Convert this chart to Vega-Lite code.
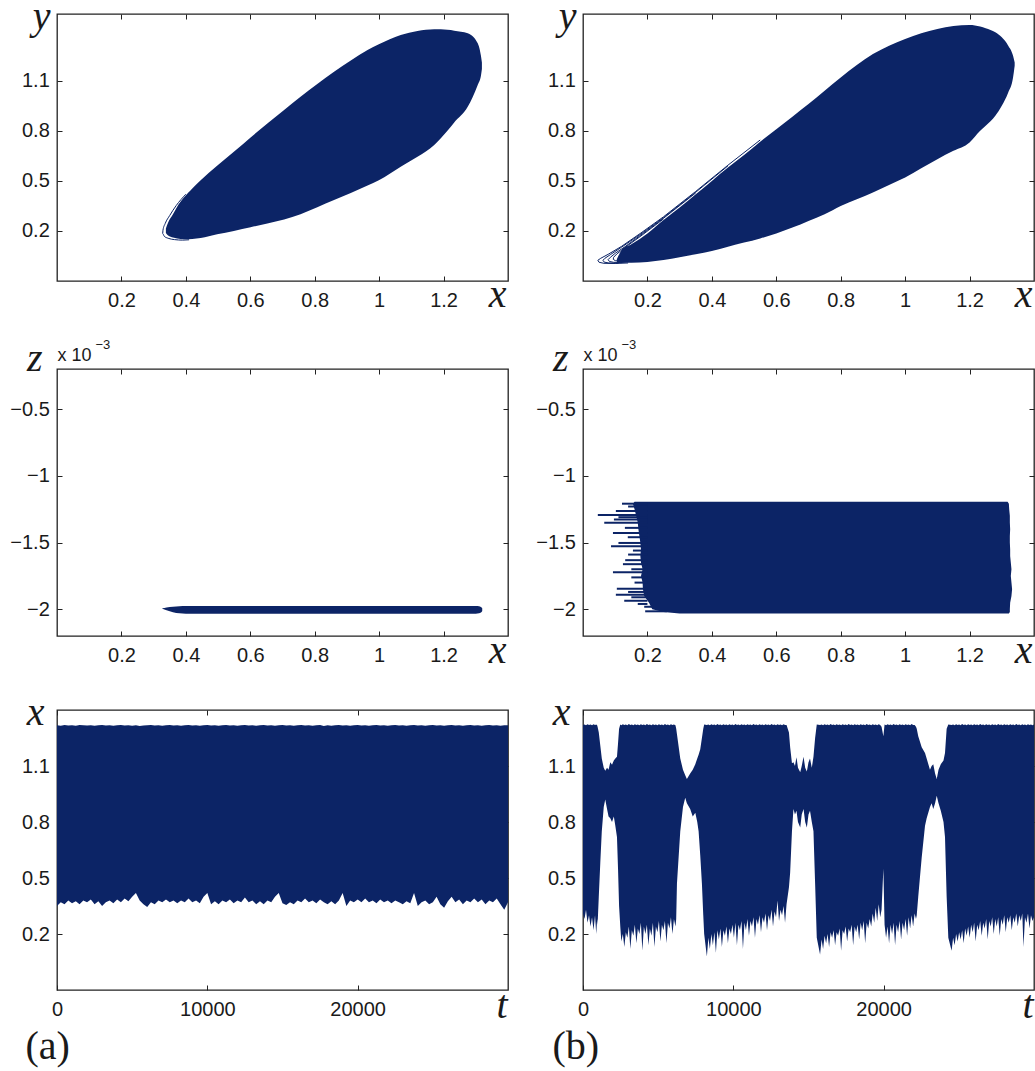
{
  "$schema": "https://vega.github.io/schema/vega-lite/v6.json",
  "autosize": {"type": "none"},
  "padding": {"left": 57, "top": 14, "right": 978, "bottom": 1057},
  "background": "white",
  "config": {
    "view": {"stroke": "#222222", "strokeWidth": 1.3},
    "axis": {
      "domain": false, "grid": false, "tickSize": -5, "tickColor": "#222222", "tickWidth": 1,
      "labelFont": "Liberation Sans", "labelFontSize": 20, "labelColor": "#1a1a1a",
      "labelFlush": false, "labelOverlap": false, "labelBound": false,
      "titleFont": "Liberation Serif", "titleFontStyle": "italic", "titleFontWeight": "normal",
      "titleFontSize": 40, "titleColor": "#1a1a1a", "titleAngle": 0
    },
    "axisX": {"labelPadding": 14},
    "axisY": {"labelPadding": 12.7}
  },
  "datasets": {
    "tl": [
      {"x":0.338,"lo":0.188,"hi":0.215},{"x":0.345,"lo":0.172,"hi":0.25},{"x":0.36,"lo":0.16,"hi":0.30},
      {"x":0.373,"lo":0.155,"hi":0.345},{"x":0.394,"lo":0.15,"hi":0.40},{"x":0.42,"lo":0.152,"hi":0.455},
      {"x":0.446,"lo":0.158,"hi":0.504},{"x":0.497,"lo":0.18,"hi":0.59},{"x":0.549,"lo":0.20,"hi":0.674},
      {"x":0.601,"lo":0.222,"hi":0.76},{"x":0.653,"lo":0.244,"hi":0.844},{"x":0.705,"lo":0.268,"hi":0.925},
      {"x":0.756,"lo":0.30,"hi":1.004},{"x":0.808,"lo":0.342,"hi":1.08},{"x":0.86,"lo":0.385,"hi":1.154},
      {"x":0.912,"lo":0.428,"hi":1.222},{"x":0.964,"lo":0.472,"hi":1.284},{"x":0.999,"lo":0.504,"hi":1.318},
      {"x":1.067,"lo":0.585,"hi":1.374},{"x":1.119,"lo":0.644,"hi":1.398},{"x":1.171,"lo":0.715,"hi":1.408},
      {"x":1.212,"lo":0.80,"hi":1.405},{"x":1.233,"lo":0.85,"hi":1.40},{"x":1.275,"lo":0.944,"hi":1.384},
      {"x":1.306,"lo":1.075,"hi":1.324},{"x":1.316,"lo":1.13,"hi":1.25},{"x":1.319,"lo":1.17,"hi":1.21}
    ],
    "tlloop": [
      {"ord":1,"x":0.40,"y":0.42},{"ord":2,"x":0.37,"y":0.352},{"ord":3,"x":0.35,"y":0.293},
      {"ord":4,"x":0.336,"y":0.245},{"ord":5,"x":0.329,"y":0.205},{"ord":6,"x":0.328,"y":0.185},
      {"ord":7,"x":0.333,"y":0.168},{"ord":8,"x":0.345,"y":0.156},{"ord":9,"x":0.365,"y":0.148},
      {"ord":10,"x":0.39,"y":0.145},{"ord":11,"x":0.41,"y":0.147}
    ],
    "tr": [
      {"x":0.105,"lo":0.012,"hi":0.03},{"x":0.12,"lo":0.008,"hi":0.085},{"x":0.15,"lo":0.009,"hi":0.12},
      {"x":0.20,"lo":0.014,"hi":0.185},{"x":0.25,"lo":0.026,"hi":0.265},{"x":0.30,"lo":0.042,"hi":0.34},
      {"x":0.35,"lo":0.06,"hi":0.42},{"x":0.40,"lo":0.08,"hi":0.50},{"x":0.45,"lo":0.105,"hi":0.58},
      {"x":0.50,"lo":0.13,"hi":0.655},{"x":0.55,"lo":0.155,"hi":0.735},{"x":0.60,"lo":0.185,"hi":0.81},
      {"x":0.65,"lo":0.22,"hi":0.885},{"x":0.70,"lo":0.26,"hi":0.96},{"x":0.75,"lo":0.30,"hi":1.04},
      {"x":0.80,"lo":0.35,"hi":1.12},{"x":0.85,"lo":0.39,"hi":1.195},{"x":0.90,"lo":0.43,"hi":1.26},
      {"x":0.95,"lo":0.475,"hi":1.31},{"x":1.00,"lo":0.52,"hi":1.35},{"x":1.05,"lo":0.575,"hi":1.385},
      {"x":1.10,"lo":0.63,"hi":1.41},{"x":1.15,"lo":0.68,"hi":1.428},{"x":1.20,"lo":0.73,"hi":1.434},
      {"x":1.233,"lo":0.80,"hi":1.425},{"x":1.25,"lo":0.83,"hi":1.415},{"x":1.28,"lo":0.89,"hi":1.39},
      {"x":1.30,"lo":0.95,"hi":1.36},{"x":1.32,"lo":1.03,"hi":1.31},{"x":1.335,"lo":1.12,"hi":1.25},
      {"x":1.34,"lo":1.19,"hi":1.21}
    ],
    "trloop": [
      {"loop":1,"ord":1,"x":0.55,"y":0.745},{"loop":1,"ord":2,"x":0.45,"y":0.594},{"loop":1,"ord":3,"x":0.35,"y":0.437},
      {"loop":1,"ord":4,"x":0.25,"y":0.285},{"loop":1,"ord":5,"x":0.18,"y":0.188},{"loop":1,"ord":6,"x":0.12,"y":0.108},
      {"loop":1,"ord":7,"x":0.08,"y":0.062},{"loop":1,"ord":8,"x":0.055,"y":0.036},{"loop":1,"ord":9,"x":0.046,"y":0.024},
      {"loop":1,"ord":10,"x":0.05,"y":0.012},{"loop":1,"ord":11,"x":0.065,"y":0.006},{"loop":1,"ord":12,"x":0.10,"y":0.005},
      {"loop":1,"ord":13,"x":0.14,"y":0.008},
      {"loop":2,"ord":1,"x":0.45,"y":0.59},{"loop":2,"ord":2,"x":0.35,"y":0.432},{"loop":2,"ord":3,"x":0.25,"y":0.28},
      {"loop":2,"ord":4,"x":0.18,"y":0.182},{"loop":2,"ord":5,"x":0.12,"y":0.103},{"loop":2,"ord":6,"x":0.085,"y":0.058},
      {"loop":2,"ord":7,"x":0.068,"y":0.036},{"loop":2,"ord":8,"x":0.062,"y":0.024},{"loop":2,"ord":9,"x":0.066,"y":0.013},
      {"loop":2,"ord":10,"x":0.08,"y":0.008},{"loop":2,"ord":11,"x":0.11,"y":0.007},
      {"loop":3,"ord":1,"x":0.35,"y":0.428},{"loop":3,"ord":2,"x":0.25,"y":0.276},{"loop":3,"ord":3,"x":0.18,"y":0.176},
      {"loop":3,"ord":4,"x":0.13,"y":0.105},{"loop":3,"ord":5,"x":0.10,"y":0.066},{"loop":3,"ord":6,"x":0.085,"y":0.042},
      {"loop":3,"ord":7,"x":0.078,"y":0.028},{"loop":3,"ord":8,"x":0.082,"y":0.017},{"loop":3,"ord":9,"x":0.095,"y":0.012},
      {"loop":3,"ord":10,"x":0.12,"y":0.01},
      {"loop":4,"ord":1,"x":0.25,"y":0.272},{"loop":4,"ord":2,"x":0.18,"y":0.17},{"loop":4,"ord":3,"x":0.13,"y":0.10},
      {"loop":4,"ord":4,"x":0.105,"y":0.062},{"loop":4,"ord":5,"x":0.095,"y":0.042},{"loop":4,"ord":6,"x":0.094,"y":0.03},
      {"loop":4,"ord":7,"x":0.10,"y":0.022},{"loop":4,"ord":8,"x":0.11,"y":0.02}
    ],
    "ml": [
      {"x":0.327,"lo":-0.001996,"hi":-0.001992},{"x":0.34,"lo":-0.002008,"hi":-0.001986},
      {"x":0.36,"lo":-0.002022,"hi":-0.00198},{"x":0.38,"lo":-0.00203,"hi":-0.001977},
      {"x":0.40,"lo":-0.002033,"hi":-0.001975},{"x":1.30,"lo":-0.002033,"hi":-0.001975},
      {"x":1.31,"lo":-0.00203,"hi":-0.001977},{"x":1.316,"lo":-0.002024,"hi":-0.001982},
      {"x":1.32,"lo":-0.002012,"hi":-0.001992}
    ],
    "mrb": [
      {"z":-0.002032,"xl":0.30,"xr":1.322},{"z":-0.00202,"xl":0.25,"xr":1.325},{"z":-0.002,"xl":0.215,"xr":1.325},
      {"z":-0.00195,"xl":0.205,"xr":1.326},{"z":-0.0019,"xl":0.19,"xr":1.33},{"z":-0.00185,"xl":0.186,"xr":1.332},
      {"z":-0.0018,"xl":0.185,"xr":1.33},{"z":-0.00175,"xl":0.18,"xr":1.328},{"z":-0.0017,"xl":0.185,"xr":1.33},
      {"z":-0.00165,"xl":0.18,"xr":1.328},{"z":-0.0016,"xl":0.178,"xr":1.326},{"z":-0.00155,"xl":0.18,"xr":1.326},
      {"z":-0.0015,"xl":0.178,"xr":1.325},{"z":-0.00145,"xl":0.175,"xr":1.325},{"z":-0.0014,"xl":0.172,"xr":1.326},
      {"z":-0.00135,"xl":0.17,"xr":1.325},{"z":-0.0013,"xl":0.165,"xr":1.325},{"z":-0.00125,"xl":0.16,"xr":1.323},
      {"z":-0.00121,"xl":0.155,"xr":1.322},{"z":-0.001195,"xl":0.16,"xr":1.318}
    ],
    "mrs": [
      {"z":-0.001209,"xl":0.121,"xr":0.2},{"z":-0.00123,"xl":0.14,"xr":0.2},{"z":-0.001264,"xl":0.102,"xr":0.2},
      {"z":-0.001294,"xl":0.046,"xr":0.2},{"z":-0.00131,"xl":0.11,"xr":0.2},{"z":-0.001328,"xl":0.096,"xr":0.2},
      {"z":-0.001351,"xl":0.066,"xr":0.2},{"z":-0.00139,"xl":0.13,"xr":0.2},{"z":-0.001428,"xl":0.093,"xr":0.2},
      {"z":-0.00146,"xl":0.139,"xr":0.2},{"z":-0.001503,"xl":0.11,"xr":0.2},{"z":-0.001528,"xl":0.087,"xr":0.2},
      {"z":-0.00156,"xl":0.155,"xr":0.2},{"z":-0.00159,"xl":0.14,"xr":0.2},{"z":-0.001632,"xl":0.131,"xr":0.2},
      {"z":-0.001662,"xl":0.124,"xr":0.2},{"z":-0.0017,"xl":0.15,"xr":0.2},{"z":-0.001722,"xl":0.093,"xr":0.2},
      {"z":-0.001761,"xl":0.15,"xr":0.2},{"z":-0.0018,"xl":0.16,"xr":0.2},{"z":-0.001846,"xl":0.105,"xr":0.2},
      {"z":-0.00187,"xl":0.14,"xr":0.2},{"z":-0.001891,"xl":0.102,"xr":0.2},{"z":-0.00191,"xl":0.15,"xr":0.2},
      {"z":-0.001936,"xl":0.128,"xr":0.2},{"z":-0.00196,"xl":0.17,"xr":0.2},{"z":-0.001981,"xl":0.19,"xr":0.22},
      {"z":-0.002015,"xl":0.193,"xr":0.26}
    ],
    "bl": [
      {"t":0,"lo":0.35,"hi":1.318},{"t":250,"lo":0.37,"hi":1.316},{"t":500,"lo":0.36,"hi":1.319},{"t":750,"lo":0.38,"hi":1.317},
      {"t":1000,"lo":0.365,"hi":1.318},{"t":1250,"lo":0.375,"hi":1.316},{"t":1500,"lo":0.36,"hi":1.319},{"t":1750,"lo":0.38,"hi":1.318},
      {"t":2000,"lo":0.37,"hi":1.317},{"t":2250,"lo":0.385,"hi":1.318},{"t":2500,"lo":0.36,"hi":1.316},{"t":2750,"lo":0.375,"hi":1.318},
      {"t":3000,"lo":0.35,"hi":1.319},{"t":3250,"lo":0.37,"hi":1.317},{"t":3500,"lo":0.38,"hi":1.318},{"t":3750,"lo":0.365,"hi":1.316},
      {"t":4000,"lo":0.385,"hi":1.318},{"t":4250,"lo":0.37,"hi":1.319},{"t":4500,"lo":0.39,"hi":1.317},{"t":4750,"lo":0.375,"hi":1.318},
      {"t":5000,"lo":0.40,"hi":1.316},{"t":5250,"lo":0.42,"hi":1.318},{"t":5500,"lo":0.38,"hi":1.314},{"t":5750,"lo":0.36,"hi":1.317},
      {"t":6000,"lo":0.345,"hi":1.318},{"t":6250,"lo":0.37,"hi":1.319},{"t":6500,"lo":0.36,"hi":1.317},{"t":6750,"lo":0.38,"hi":1.318},
      {"t":7000,"lo":0.37,"hi":1.316},{"t":7250,"lo":0.385,"hi":1.318},{"t":7500,"lo":0.37,"hi":1.319},{"t":7750,"lo":0.38,"hi":1.317},
      {"t":8000,"lo":0.365,"hi":1.318},{"t":8250,"lo":0.38,"hi":1.316},{"t":8500,"lo":0.37,"hi":1.318},{"t":8750,"lo":0.39,"hi":1.319},
      {"t":9000,"lo":0.37,"hi":1.317},{"t":9250,"lo":0.38,"hi":1.318},{"t":9500,"lo":0.365,"hi":1.316},{"t":9750,"lo":0.40,"hi":1.318},
      {"t":10000,"lo":0.42,"hi":1.32},{"t":10250,"lo":0.36,"hi":1.317},{"t":10500,"lo":0.375,"hi":1.318},{"t":10750,"lo":0.36,"hi":1.316},
      {"t":11000,"lo":0.38,"hi":1.318},{"t":11250,"lo":0.37,"hi":1.319},{"t":11500,"lo":0.385,"hi":1.317},{"t":11750,"lo":0.365,"hi":1.318},
      {"t":12000,"lo":0.38,"hi":1.316},{"t":12250,"lo":0.37,"hi":1.318},{"t":12500,"lo":0.395,"hi":1.319},{"t":12750,"lo":0.37,"hi":1.317},
      {"t":13000,"lo":0.38,"hi":1.318},{"t":13250,"lo":0.36,"hi":1.316},{"t":13500,"lo":0.375,"hi":1.318},{"t":13750,"lo":0.36,"hi":1.319},
      {"t":14000,"lo":0.38,"hi":1.317},{"t":14250,"lo":0.37,"hi":1.318},{"t":14500,"lo":0.40,"hi":1.316},{"t":14750,"lo":0.42,"hi":1.318},
      {"t":15000,"lo":0.365,"hi":1.319},{"t":15250,"lo":0.355,"hi":1.317},{"t":15500,"lo":0.37,"hi":1.318},{"t":15750,"lo":0.36,"hi":1.316},
      {"t":16000,"lo":0.38,"hi":1.318},{"t":16250,"lo":0.37,"hi":1.319},{"t":16500,"lo":0.39,"hi":1.317},{"t":16750,"lo":0.37,"hi":1.318},
      {"t":17000,"lo":0.38,"hi":1.316},{"t":17250,"lo":0.365,"hi":1.318},{"t":17500,"lo":0.385,"hi":1.319},{"t":17750,"lo":0.37,"hi":1.314},
      {"t":18000,"lo":0.36,"hi":1.318},{"t":18250,"lo":0.375,"hi":1.316},{"t":18500,"lo":0.36,"hi":1.318},{"t":18750,"lo":0.38,"hi":1.319},
      {"t":19000,"lo":0.42,"hi":1.317},{"t":19250,"lo":0.35,"hi":1.318},{"t":19500,"lo":0.38,"hi":1.316},{"t":19750,"lo":0.37,"hi":1.318},
      {"t":20000,"lo":0.385,"hi":1.319},{"t":20250,"lo":0.37,"hi":1.317},{"t":20500,"lo":0.39,"hi":1.318},{"t":20750,"lo":0.37,"hi":1.316},
      {"t":21000,"lo":0.38,"hi":1.318},{"t":21250,"lo":0.365,"hi":1.319},{"t":21500,"lo":0.385,"hi":1.317},{"t":21750,"lo":0.37,"hi":1.318},
      {"t":22000,"lo":0.38,"hi":1.316},{"t":22250,"lo":0.365,"hi":1.318},{"t":22500,"lo":0.38,"hi":1.319},{"t":22750,"lo":0.37,"hi":1.317},
      {"t":23000,"lo":0.36,"hi":1.318},{"t":23250,"lo":0.375,"hi":1.316},{"t":23500,"lo":0.365,"hi":1.318},{"t":23750,"lo":0.42,"hi":1.319},
      {"t":24000,"lo":0.35,"hi":1.317},{"t":24250,"lo":0.37,"hi":1.318},{"t":24500,"lo":0.38,"hi":1.316},{"t":24750,"lo":0.36,"hi":1.318},
      {"t":25000,"lo":0.37,"hi":1.319},{"t":25250,"lo":0.40,"hi":1.317},{"t":25500,"lo":0.36,"hi":1.318},{"t":25750,"lo":0.34,"hi":1.316},
      {"t":26000,"lo":0.375,"hi":1.318},{"t":26250,"lo":0.40,"hi":1.319},{"t":26500,"lo":0.37,"hi":1.317},{"t":26750,"lo":0.385,"hi":1.318},
      {"t":27000,"lo":0.36,"hi":1.316},{"t":27250,"lo":0.38,"hi":1.318},{"t":27500,"lo":0.37,"hi":1.319},{"t":27750,"lo":0.39,"hi":1.317},
      {"t":28000,"lo":0.37,"hi":1.318},{"t":28250,"lo":0.385,"hi":1.316},{"t":28500,"lo":0.36,"hi":1.318},{"t":28750,"lo":0.38,"hi":1.319},
      {"t":29000,"lo":0.37,"hi":1.317},{"t":29250,"lo":0.39,"hi":1.318},{"t":29500,"lo":0.36,"hi":1.316},{"t":29750,"lo":0.33,"hi":1.318},
      {"t":30000,"lo":0.37,"hi":1.318}
    ],
    "br": [
      {"t":0,"lo":0.31,"hi":1.32},{"t":100,"lo":0.28,"hi":1.322},{"t":200,"lo":0.33,"hi":1.318},{"t":300,"lo":0.26,"hi":1.324},
      {"t":400,"lo":0.30,"hi":1.32},{"t":500,"lo":0.24,"hi":1.322},{"t":600,"lo":0.29,"hi":1.318},{"t":700,"lo":0.22,"hi":1.323},
      {"t":800,"lo":0.30,"hi":1.32},{"t":880,"lo":0.20,"hi":1.322},{"t":940,"lo":0.28,"hi":1.318},
      {"t":970,"lo":0.25,"hi":1.31},{"t":1050,"lo":0.40,"hi":1.28},
      {"t":1150,"lo":0.58,"hi":1.21},{"t":1250,"lo":0.75,"hi":1.14},{"t":1380,"lo":0.88,"hi":1.09},{"t":1480,"lo":0.92,"hi":1.075},
      {"t":1600,"lo":0.87,"hi":1.09},{"t":1700,"lo":0.83,"hi":1.08},{"t":1815,"lo":0.82,"hi":1.12},{"t":1930,"lo":0.80,"hi":1.107},
      {"t":2050,"lo":0.83,"hi":1.13},{"t":2150,"lo":0.78,"hi":1.14},{"t":2260,"lo":0.72,"hi":1.15},{"t":2330,"lo":0.55,"hi":1.22},
      {"t":2400,"lo":0.35,"hi":1.30},{"t":2480,"lo":0.24,"hi":1.322},
      {"t":2550,"lo":0.16,"hi":1.318},{"t":2650,"lo":0.20,"hi":1.324},{"t":2750,"lo":0.13,"hi":1.32},{"t":2850,"lo":0.21,"hi":1.322},
      {"t":2950,"lo":0.18,"hi":1.318},{"t":3050,"lo":0.24,"hi":1.325},{"t":3150,"lo":0.12,"hi":1.32},{"t":3250,"lo":0.22,"hi":1.322},
      {"t":3350,"lo":0.19,"hi":1.318},{"t":3450,"lo":0.25,"hi":1.323},{"t":3550,"lo":0.15,"hi":1.32},{"t":3650,"lo":0.23,"hi":1.322},
      {"t":3750,"lo":0.20,"hi":1.318},{"t":3850,"lo":0.26,"hi":1.324},{"t":3950,"lo":0.11,"hi":1.32},{"t":4050,"lo":0.24,"hi":1.322},
      {"t":4150,"lo":0.20,"hi":1.318},{"t":4250,"lo":0.25,"hi":1.325},{"t":4350,"lo":0.14,"hi":1.32},{"t":4450,"lo":0.23,"hi":1.322},
      {"t":4550,"lo":0.19,"hi":1.318},{"t":4650,"lo":0.26,"hi":1.323},{"t":4750,"lo":0.13,"hi":1.32},{"t":4850,"lo":0.24,"hi":1.322},
      {"t":4950,"lo":0.21,"hi":1.318},{"t":5050,"lo":0.27,"hi":1.324},{"t":5150,"lo":0.16,"hi":1.32},{"t":5250,"lo":0.25,"hi":1.322},
      {"t":5350,"lo":0.22,"hi":1.318},{"t":5450,"lo":0.27,"hi":1.325},{"t":5550,"lo":0.15,"hi":1.32},{"t":5650,"lo":0.26,"hi":1.322},
      {"t":5750,"lo":0.23,"hi":1.318},{"t":5850,"lo":0.29,"hi":1.323},{"t":5950,"lo":0.20,"hi":1.32},{"t":6050,"lo":0.28,"hi":1.322},
      {"t":6150,"lo":0.24,"hi":1.318},
      {"t":6200,"lo":0.28,"hi":1.30},{"t":6250,"lo":0.47,"hi":1.27},{"t":6470,"lo":0.75,"hi":1.14},{"t":6650,"lo":0.88,"hi":1.08},
      {"t":6800,"lo":0.93,"hi":1.05},{"t":6910,"lo":0.90,"hi":1.03},{"t":7130,"lo":0.87,"hi":1.06},{"t":7300,"lo":0.83,"hi":1.08},
      {"t":7470,"lo":0.85,"hi":1.11},{"t":7600,"lo":0.80,"hi":1.14},{"t":7690,"lo":0.75,"hi":1.16},{"t":7800,"lo":0.62,"hi":1.19},
      {"t":7910,"lo":0.47,"hi":1.25},{"t":8000,"lo":0.30,"hi":1.30},{"t":8060,"lo":0.20,"hi":1.322},
      {"t":8240,"lo":0.08,"hi":1.32},{"t":8340,"lo":0.18,"hi":1.322},{"t":8440,"lo":0.12,"hi":1.318},{"t":8540,"lo":0.20,"hi":1.324},
      {"t":8640,"lo":0.14,"hi":1.32},{"t":8740,"lo":0.21,"hi":1.322},{"t":8840,"lo":0.10,"hi":1.318},{"t":8940,"lo":0.22,"hi":1.325},
      {"t":9040,"lo":0.17,"hi":1.32},{"t":9140,"lo":0.23,"hi":1.322},{"t":9240,"lo":0.13,"hi":1.318},{"t":9340,"lo":0.22,"hi":1.323},
      {"t":9440,"lo":0.19,"hi":1.32},{"t":9540,"lo":0.24,"hi":1.322},{"t":9640,"lo":0.15,"hi":1.318},{"t":9740,"lo":0.23,"hi":1.324},
      {"t":9840,"lo":0.20,"hi":1.32},{"t":9940,"lo":0.25,"hi":1.322},{"t":10040,"lo":0.18,"hi":1.318},{"t":10140,"lo":0.26,"hi":1.325},
      {"t":10240,"lo":0.14,"hi":1.32},{"t":10340,"lo":0.25,"hi":1.322},{"t":10440,"lo":0.22,"hi":1.318},{"t":10540,"lo":0.27,"hi":1.323},
      {"t":10640,"lo":0.12,"hi":1.32},{"t":10740,"lo":0.26,"hi":1.322},{"t":10840,"lo":0.22,"hi":1.318},{"t":10940,"lo":0.28,"hi":1.324},
      {"t":11040,"lo":0.19,"hi":1.32},{"t":11140,"lo":0.27,"hi":1.322},{"t":11240,"lo":0.24,"hi":1.318},{"t":11340,"lo":0.29,"hi":1.325},
      {"t":11440,"lo":0.18,"hi":1.32},{"t":11540,"lo":0.28,"hi":1.322},{"t":11640,"lo":0.25,"hi":1.318},{"t":11740,"lo":0.30,"hi":1.323},
      {"t":11840,"lo":0.21,"hi":1.32},{"t":11940,"lo":0.29,"hi":1.322},{"t":12040,"lo":0.26,"hi":1.318},{"t":12140,"lo":0.31,"hi":1.324},
      {"t":12240,"lo":0.22,"hi":1.32},{"t":12340,"lo":0.30,"hi":1.322},{"t":12440,"lo":0.27,"hi":1.318},{"t":12540,"lo":0.33,"hi":1.325},
      {"t":12640,"lo":0.24,"hi":1.32},{"t":12740,"lo":0.32,"hi":1.322},{"t":12840,"lo":0.29,"hi":1.318},{"t":12940,"lo":0.38,"hi":1.323},
      {"t":13040,"lo":0.27,"hi":1.32},{"t":13140,"lo":0.33,"hi":1.322},{"t":13240,"lo":0.30,"hi":1.318},{"t":13340,"lo":0.35,"hi":1.324},
      {"t":13440,"lo":0.26,"hi":1.32},{"t":13540,"lo":0.36,"hi":1.32},
      {"t":13700,"lo":0.45,"hi":1.28},
      {"t":13780,"lo":0.53,"hi":1.20},{"t":13900,"lo":0.75,"hi":1.115},{"t":14000,"lo":0.87,"hi":1.12},{"t":14100,"lo":0.84,"hi":1.10},
      {"t":14200,"lo":0.86,"hi":1.147},{"t":14300,"lo":0.80,"hi":1.09},{"t":14450,"lo":0.77,"hi":1.066},{"t":14550,"lo":0.84,"hi":1.10},
      {"t":14670,"lo":0.87,"hi":1.15},{"t":14780,"lo":0.80,"hi":1.09},{"t":14890,"lo":0.77,"hi":1.07},{"t":15000,"lo":0.84,"hi":1.12},
      {"t":15100,"lo":0.86,"hi":1.14},{"t":15220,"lo":0.80,"hi":1.09},{"t":15330,"lo":0.75,"hi":1.15},{"t":15440,"lo":0.47,"hi":1.25},
      {"t":15550,"lo":0.18,"hi":1.322},
      {"t":15770,"lo":0.09,"hi":1.32},{"t":15870,"lo":0.17,"hi":1.322},{"t":15970,"lo":0.12,"hi":1.318},{"t":16070,"lo":0.19,"hi":1.324},
      {"t":16170,"lo":0.15,"hi":1.32},{"t":16270,"lo":0.20,"hi":1.322},{"t":16370,"lo":0.13,"hi":1.318},{"t":16470,"lo":0.21,"hi":1.325},
      {"t":16570,"lo":0.18,"hi":1.32},{"t":16670,"lo":0.22,"hi":1.322},{"t":16770,"lo":0.14,"hi":1.318},{"t":16870,"lo":0.21,"hi":1.323},
      {"t":16970,"lo":0.19,"hi":1.32},{"t":17070,"lo":0.23,"hi":1.322},{"t":17170,"lo":0.11,"hi":1.318},{"t":17270,"lo":0.22,"hi":1.324},
      {"t":17370,"lo":0.20,"hi":1.32},{"t":17470,"lo":0.24,"hi":1.322},{"t":17570,"lo":0.16,"hi":1.318},{"t":17670,"lo":0.23,"hi":1.325},
      {"t":17770,"lo":0.21,"hi":1.32},{"t":17870,"lo":0.25,"hi":1.322},{"t":17970,"lo":0.14,"hi":1.318},{"t":18070,"lo":0.24,"hi":1.323},
      {"t":18170,"lo":0.21,"hi":1.32},{"t":18270,"lo":0.25,"hi":1.322},{"t":18370,"lo":0.17,"hi":1.318},{"t":18470,"lo":0.26,"hi":1.324},
      {"t":18570,"lo":0.22,"hi":1.32},{"t":18670,"lo":0.27,"hi":1.322},{"t":18770,"lo":0.15,"hi":1.318},{"t":18870,"lo":0.26,"hi":1.325},
      {"t":18970,"lo":0.23,"hi":1.32},{"t":19070,"lo":0.28,"hi":1.322},{"t":19170,"lo":0.24,"hi":1.318},{"t":19270,"lo":0.31,"hi":1.323},
      {"t":19370,"lo":0.26,"hi":1.32},{"t":19470,"lo":0.34,"hi":1.322},{"t":19570,"lo":0.27,"hi":1.318},{"t":19670,"lo":0.36,"hi":1.324},
      {"t":19770,"lo":0.29,"hi":1.32},{"t":19860,"lo":0.33,"hi":1.31},
      {"t":19980,"lo":0.55,"hi":1.26},{"t":20060,"lo":0.25,"hi":1.322},
      {"t":20160,"lo":0.18,"hi":1.318},{"t":20260,"lo":0.24,"hi":1.324},{"t":20360,"lo":0.15,"hi":1.32},{"t":20460,"lo":0.25,"hi":1.322},
      {"t":20560,"lo":0.20,"hi":1.318},{"t":20660,"lo":0.26,"hi":1.325},{"t":20760,"lo":0.14,"hi":1.32},{"t":20860,"lo":0.25,"hi":1.322},
      {"t":20960,"lo":0.21,"hi":1.318},{"t":21060,"lo":0.27,"hi":1.323},{"t":21160,"lo":0.17,"hi":1.32},{"t":21260,"lo":0.26,"hi":1.322},
      {"t":21360,"lo":0.22,"hi":1.318},{"t":21460,"lo":0.28,"hi":1.324},{"t":21560,"lo":0.19,"hi":1.32},{"t":21660,"lo":0.29,"hi":1.322},
      {"t":21760,"lo":0.23,"hi":1.318},{"t":21860,"lo":0.30,"hi":1.325},{"t":21960,"lo":0.24,"hi":1.32},{"t":22060,"lo":0.31,"hi":1.32},
      {"t":22150,"lo":0.28,"hi":1.31},
      {"t":22200,"lo":0.30,"hi":1.30},
      {"t":22300,"lo":0.40,"hi":1.26},{"t":22530,"lo":0.61,"hi":1.20},{"t":22750,"lo":0.78,"hi":1.17},{"t":22860,"lo":0.82,"hi":1.14},
      {"t":23080,"lo":0.88,"hi":1.08},{"t":23190,"lo":0.90,"hi":1.10},{"t":23300,"lo":0.87,"hi":1.11},{"t":23420,"lo":0.90,"hi":1.06},
      {"t":23530,"lo":0.94,"hi":1.03},{"t":23650,"lo":0.90,"hi":1.08},{"t":23800,"lo":0.86,"hi":1.11},{"t":23980,"lo":0.80,"hi":1.13},
      {"t":24080,"lo":0.72,"hi":1.17},{"t":24190,"lo":0.40,"hi":1.30},{"t":24300,"lo":0.18,"hi":1.322},
      {"t":24520,"lo":0.11,"hi":1.32},{"t":24620,"lo":0.18,"hi":1.322},{"t":24720,"lo":0.14,"hi":1.318},{"t":24820,"lo":0.20,"hi":1.324},
      {"t":24920,"lo":0.16,"hi":1.32},{"t":25020,"lo":0.21,"hi":1.322},{"t":25120,"lo":0.17,"hi":1.318},{"t":25220,"lo":0.22,"hi":1.325},
      {"t":25320,"lo":0.15,"hi":1.32},{"t":25420,"lo":0.23,"hi":1.322},{"t":25520,"lo":0.19,"hi":1.318},{"t":25620,"lo":0.24,"hi":1.323},
      {"t":25720,"lo":0.18,"hi":1.32},{"t":25820,"lo":0.25,"hi":1.322},{"t":25920,"lo":0.21,"hi":1.318},{"t":26020,"lo":0.26,"hi":1.324},
      {"t":26120,"lo":0.16,"hi":1.32},{"t":26220,"lo":0.25,"hi":1.322},{"t":26320,"lo":0.22,"hi":1.318},{"t":26420,"lo":0.27,"hi":1.325},
      {"t":26520,"lo":0.19,"hi":1.32},{"t":26620,"lo":0.26,"hi":1.322},{"t":26720,"lo":0.23,"hi":1.318},{"t":26820,"lo":0.28,"hi":1.323},
      {"t":26920,"lo":0.17,"hi":1.32},{"t":27020,"lo":0.27,"hi":1.322},{"t":27120,"lo":0.24,"hi":1.318},{"t":27220,"lo":0.29,"hi":1.324},
      {"t":27320,"lo":0.20,"hi":1.32},{"t":27420,"lo":0.28,"hi":1.322},{"t":27520,"lo":0.24,"hi":1.318},{"t":27620,"lo":0.29,"hi":1.325},
      {"t":27720,"lo":0.19,"hi":1.32},{"t":27820,"lo":0.28,"hi":1.322},{"t":27920,"lo":0.25,"hi":1.318},{"t":28020,"lo":0.30,"hi":1.323},
      {"t":28120,"lo":0.21,"hi":1.32},{"t":28220,"lo":0.29,"hi":1.322},{"t":28320,"lo":0.26,"hi":1.318},{"t":28420,"lo":0.30,"hi":1.324},
      {"t":28520,"lo":0.22,"hi":1.32},{"t":28620,"lo":0.29,"hi":1.322},{"t":28720,"lo":0.26,"hi":1.318},{"t":28820,"lo":0.31,"hi":1.325},
      {"t":28920,"lo":0.24,"hi":1.32},{"t":29020,"lo":0.30,"hi":1.322},{"t":29120,"lo":0.27,"hi":1.318},{"t":29220,"lo":0.31,"hi":1.323},
      {"t":29300,"lo":0.13,"hi":1.32},{"t":29400,"lo":0.29,"hi":1.322},{"t":29500,"lo":0.26,"hi":1.318},{"t":29600,"lo":0.31,"hi":1.324},
      {"t":29700,"lo":0.23,"hi":1.32},{"t":29800,"lo":0.30,"hi":1.322},{"t":29900,"lo":0.27,"hi":1.318},{"t":30000,"lo":0.29,"hi":1.322}
    ]
  },
  "vconcat": [
    {
      "bounds": "flush",
      "spacing": 355,
      "vconcat": [
        {
          "bounds": "flush",
          "spacing": 75,
          "hconcat": [
            {
              "width": 451, "height": 267,
              "resolve": {"axis": {"x": "independent", "y": "independent"}},
              "layer": [
                {
                  "data": {"name": "tl"},
                  "mark": {"type": "area", "color": "#0c2466", "interpolate": "monotone"},
                  "encoding": {
                    "x": {"field": "x", "type": "quantitative", "scale": {"domain": [0, 1.4], "nice": false},
                          "axis": {"orient": "bottom", "values": [0.2,0.4,0.6,0.8,1,1.2], "format": ".2~g", "title": "x", "titleX": 449, "titleY": 25, "titleAlign": "right", "titleBaseline": "alphabetic"}},
                    "y": {"field": "lo", "type": "quantitative", "scale": {"domain": [-0.1, 1.5], "nice": false},
                          "axis": {"orient": "left", "values": [0.2,0.5,0.8,1.1], "format": ".2~g", "title": "y", "titleX": -7, "titleY": 14, "titleAlign": "right", "titleBaseline": "alphabetic"}},
                    "y2": {"field": "hi"}
                  }
                },
                {
                  "data": {"name": "tlloop"},
                  "mark": {"type": "line", "color": "#0c2466", "strokeWidth": 1, "interpolate": "monotone"},
                  "encoding": {
                    "x": {"field": "x", "type": "quantitative", "axis": {"orient": "top", "values": [0.2,0.4,0.6,0.8,1,1.2], "labels": false, "title": null}},
                    "y": {"field": "y", "type": "quantitative", "axis": {"orient": "right", "values": [0.2,0.5,0.8,1.1], "labels": false, "title": null}},
                    "order": {"field": "ord"}
                  }
                }
              ]
            },
            {
              "width": 451, "height": 267,
              "resolve": {"axis": {"x": "independent", "y": "independent"}},
              "layer": [
                {
                  "data": {"name": "tr"},
                  "mark": {"type": "area", "color": "#0c2466", "interpolate": "monotone"},
                  "encoding": {
                    "x": {"field": "x", "type": "quantitative", "scale": {"domain": [0, 1.4], "nice": false},
                          "axis": {"orient": "bottom", "values": [0.2,0.4,0.6,0.8,1,1.2], "format": ".2~g", "title": "x", "titleX": 449, "titleY": 25, "titleAlign": "right", "titleBaseline": "alphabetic"}},
                    "y": {"field": "lo", "type": "quantitative", "scale": {"domain": [-0.1, 1.5], "nice": false},
                          "axis": {"orient": "left", "values": [0.2,0.5,0.8,1.1], "format": ".2~g", "title": "y", "titleX": -7, "titleY": 14, "titleAlign": "right", "titleBaseline": "alphabetic"}},
                    "y2": {"field": "hi"}
                  }
                },
                {
                  "data": {"name": "trloop"},
                  "mark": {"type": "line", "color": "#0c2466", "strokeWidth": 1},
                  "encoding": {
                    "x": {"field": "x", "type": "quantitative", "axis": {"orient": "top", "values": [0.2,0.4,0.6,0.8,1,1.2], "labels": false, "title": null}},
                    "y": {"field": "y", "type": "quantitative", "axis": {"orient": "right", "values": [0.2,0.5,0.8,1.1], "labels": false, "title": null}},
                    "detail": {"field": "loop"},
                    "order": {"field": "ord"}
                  }
                }
              ]
            }
          ]
        },
        {
          "bounds": "flush",
          "spacing": 75,
          "hconcat": [
            {
              "width": 451, "height": 267,
              "resolve": {"axis": {"x": "independent", "y": "independent"}},
              "layer": [
                {
                  "data": {"name": "ml"},
                  "mark": {"type": "area", "color": "#0c2466", "interpolate": "monotone"},
                  "encoding": {
                    "x": {"field": "x", "type": "quantitative", "scale": {"domain": [0, 1.4], "nice": false},
                          "axis": {"orient": "bottom", "values": [0.2,0.4,0.6,0.8,1,1.2], "format": ".2~g", "title": "x", "titleX": 449, "titleY": 26, "titleAlign": "right", "titleBaseline": "alphabetic"}},
                    "y": {"field": "lo", "type": "quantitative", "scale": {"domain": [-0.0022, -0.0002], "nice": false},
                          "axis": {"orient": "left", "values": [-0.002,-0.0015,-0.001,-0.0005], "labelExpr": "format(datum.value*1000, '.2~g')", "title": "z", "titleX": -15, "titleY": 1, "titleAlign": "right", "titleBaseline": "alphabetic"}},
                    "y2": {"field": "hi"}
                  }
                },
                {
                  "data": {"name": "ml"},
                  "mark": {"type": "area", "opacity": 0},
                  "encoding": {
                    "x": {"field": "x", "type": "quantitative", "axis": {"orient": "top", "values": [0.2,0.4,0.6,0.8,1,1.2], "labels": false, "title": "x 10", "titleFont": "Liberation Sans", "titleFontStyle": "normal", "titleFontSize": 18, "titleX": 0, "titleY": -9, "titleAlign": "left", "titleBaseline": "alphabetic"}},
                    "y": {"field": "lo", "type": "quantitative", "axis": {"orient": "right", "values": [-0.002,-0.0015,-0.001,-0.0005], "labels": false, "title": "−3", "titleFont": "Liberation Sans", "titleFontStyle": "normal", "titleFontSize": 13, "titleX": -413, "titleY": -21, "titleAlign": "left", "titleBaseline": "alphabetic"}},
                    "y2": {"field": "hi"}
                  }
                }
              ]
            },
            {
              "width": 451, "height": 267,
              "resolve": {"axis": {"x": "independent", "y": "independent"}},
              "layer": [
                {
                  "data": {"name": "mrb"},
                  "mark": {"type": "area", "orient": "horizontal", "color": "#0c2466"},
                  "encoding": {
                    "y": {"field": "z", "type": "quantitative", "scale": {"domain": [-0.0022, -0.0002], "nice": false},
                          "axis": {"orient": "left", "values": [-0.002,-0.0015,-0.001,-0.0005], "labelExpr": "format(datum.value*1000, '.2~g')", "title": "z", "titleX": -15, "titleY": 1, "titleAlign": "right", "titleBaseline": "alphabetic"}},
                    "x": {"field": "xl", "type": "quantitative", "scale": {"domain": [0, 1.4], "nice": false},
                          "axis": {"orient": "bottom", "values": [0.2,0.4,0.6,0.8,1,1.2], "format": ".2~g", "title": "x", "titleX": 449, "titleY": 26, "titleAlign": "right", "titleBaseline": "alphabetic"}},
                    "x2": {"field": "xr"}
                  }
                },
                {
                  "data": {"name": "mrs"},
                  "mark": {"type": "rule", "color": "#0c2466", "strokeWidth": 2},
                  "encoding": {
                    "y": {"field": "z", "type": "quantitative", "axis": {"orient": "right", "values": [-0.002,-0.0015,-0.001,-0.0005], "labels": false, "title": "−3", "titleFont": "Liberation Sans", "titleFontStyle": "normal", "titleFontSize": 13, "titleX": -413, "titleY": -21, "titleAlign": "left", "titleBaseline": "alphabetic"}},
                    "x": {"field": "xl", "type": "quantitative", "axis": {"orient": "top", "values": [0.2,0.4,0.6,0.8,1,1.2], "labels": false, "title": "x 10", "titleFont": "Liberation Sans", "titleFontStyle": "normal", "titleFontSize": 18, "titleX": 0, "titleY": -9, "titleAlign": "left", "titleBaseline": "alphabetic"}},
                    "x2": {"field": "xr"}
                  }
                }
              ]
            }
          ]
        }
      ]
    },
    {
      "bounds": "flush",
      "spacing": 75,
      "hconcat": [
        {
          "width": 451, "height": 280,
          "resolve": {"axis": {"x": "independent", "y": "independent"}},
          "layer": [
            {
              "data": {"name": "bl"},
              "mark": {"type": "area", "color": "#0c2466"},
              "encoding": {
                "x": {"field": "t", "type": "quantitative", "scale": {"domain": [0, 30000], "nice": false},
                      "axis": {"orient": "bottom", "values": [0, 10000, 20000], "format": "d", "title": "t", "titleX": 450, "titleY": 27, "titleAlign": "right", "titleBaseline": "alphabetic"}},
                "y": {"field": "lo", "type": "quantitative", "scale": {"domain": [-0.1, 1.4], "nice": false},
                      "axis": {"orient": "left", "values": [0.2,0.5,0.8,1.1], "format": ".2~g", "title": "x", "titleX": -13, "titleY": 14, "titleAlign": "right", "titleBaseline": "alphabetic"}},
                "y2": {"field": "hi"}
              }
            },
            {
              "data": {"name": "bl"},
              "mark": {"type": "area", "opacity": 0},
              "encoding": {
                "x": {"field": "t", "type": "quantitative", "axis": {"orient": "top", "values": [0, 10000, 20000], "labels": false, "title": "(a)", "titleFont": "Liberation Serif", "titleFontStyle": "normal", "titleFontSize": 40, "titleX": -32, "titleY": 348, "titleAlign": "left", "titleBaseline": "alphabetic"}},
                "y": {"field": "lo", "type": "quantitative", "axis": {"orient": "right", "values": [0.2,0.5,0.8,1.1], "labels": false, "title": null}},
                "y2": {"field": "hi"}
              }
            }
          ]
        },
        {
          "width": 451, "height": 280,
          "resolve": {"axis": {"x": "independent", "y": "independent"}},
          "layer": [
            {
              "data": {"name": "br"},
              "mark": {"type": "area", "color": "#0c2466"},
              "encoding": {
                "x": {"field": "t", "type": "quantitative", "scale": {"domain": [0, 30000], "nice": false},
                      "axis": {"orient": "bottom", "values": [0, 10000, 20000], "format": "d", "title": "t", "titleX": 450, "titleY": 27, "titleAlign": "right", "titleBaseline": "alphabetic"}},
                "y": {"field": "lo", "type": "quantitative", "scale": {"domain": [-0.1, 1.4], "nice": false},
                      "axis": {"orient": "left", "values": [0.2,0.5,0.8,1.1], "format": ".2~g", "title": "x", "titleX": -13, "titleY": 14, "titleAlign": "right", "titleBaseline": "alphabetic"}},
                "y2": {"field": "hi"}
              }
            },
            {
              "data": {"name": "br"},
              "mark": {"type": "area", "opacity": 0},
              "encoding": {
                "x": {"field": "t", "type": "quantitative", "axis": {"orient": "top", "values": [0, 10000, 20000], "labels": false, "title": "(b)", "titleFont": "Liberation Serif", "titleFontStyle": "normal", "titleFontSize": 40, "titleX": -31, "titleY": 348, "titleAlign": "left", "titleBaseline": "alphabetic"}},
                "y": {"field": "lo", "type": "quantitative", "axis": {"orient": "right", "values": [0.2,0.5,0.8,1.1], "labels": false, "title": null}},
                "y2": {"field": "hi"}
              }
            }
          ]
        }
      ]
    }
  ]
}
